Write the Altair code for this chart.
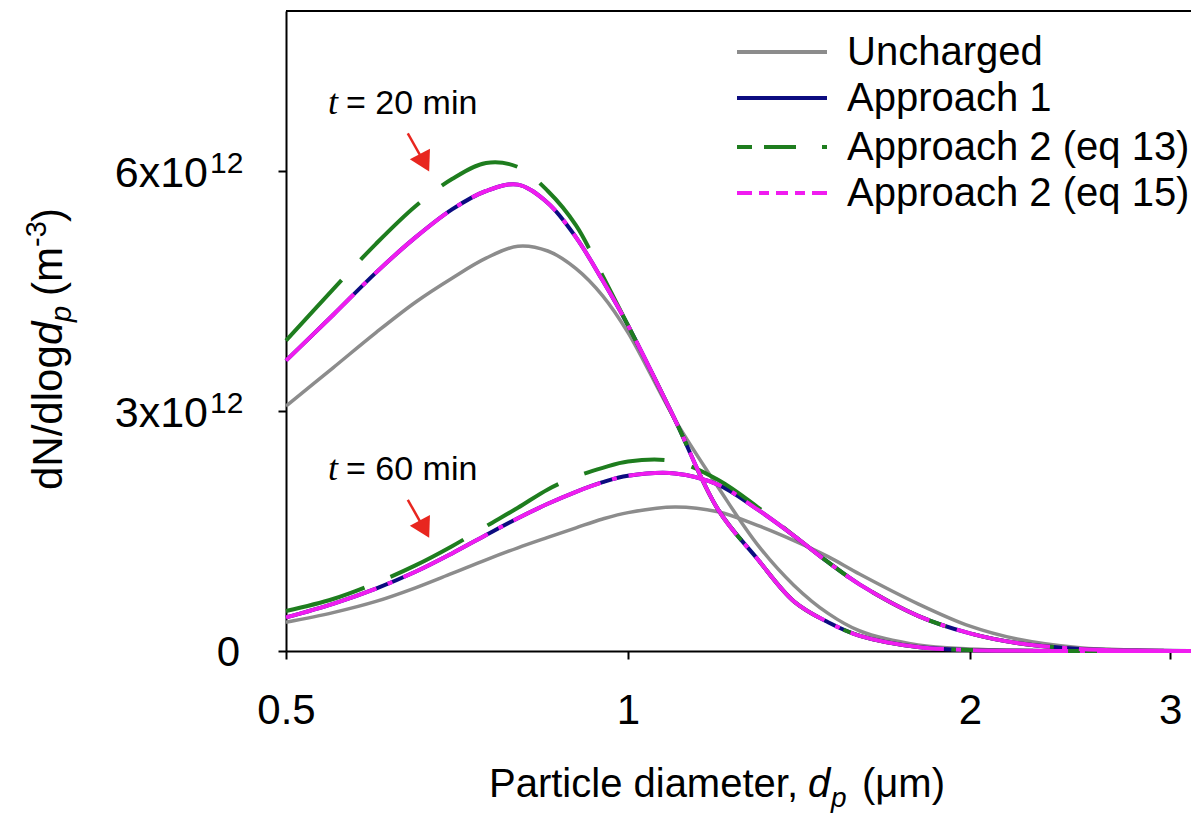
import altair as alt
import pandas as pd

# ---------------- data (dN/dlogdp in units of 1e12 m^-3) ----------------
diam = [0.5, 0.55, 0.6, 0.65, 0.7, 0.75, 0.8, 0.85, 0.9, 0.95, 1.0, 1.1, 1.2,
        1.3, 1.4, 1.5, 1.6, 1.8, 2.0, 2.2, 2.5, 2.8, 3.13]

unch_20 = [3.06, 3.54, 3.98, 4.36, 4.66, 4.91, 5.06, 5.00, 4.78, 4.44, 3.98, 2.89, 2.05,
           1.33, 0.82, 0.47, 0.25, 0.075, 0.025, 0.008, 0.002, 0.0005, 0.0001]
app1_20 = [3.63, 4.20, 4.73, 5.17, 5.52, 5.75, 5.83, 5.60, 5.17, 4.63, 4.07, 2.89, 1.77,
           1.15, 0.62, 0.36, 0.19, 0.05, 0.012, 0.003, 0.0005, 0.0001, 0.0]
eq13_20 = [3.88, 4.52, 5.09, 5.56, 5.90, 6.10, 6.05, 5.75, 5.32, 4.69, 4.07, 2.89, 1.77,
           1.15, 0.62, 0.36, 0.19, 0.05, 0.012, 0.003, 0.0005, 0.0001, 0.0]
eq15_20 = [3.63, 4.20, 4.73, 5.17, 5.52, 5.75, 5.83, 5.60, 5.17, 4.63, 4.07, 2.89, 1.77,
           1.15, 0.62, 0.36, 0.19, 0.05, 0.012, 0.003, 0.0005, 0.0001, 0.0]

unch_60 = [0.36, 0.48, 0.62, 0.79, 0.97, 1.14, 1.29, 1.42, 1.54, 1.65, 1.73, 1.80, 1.74,
           1.57, 1.38, 1.18, 0.96, 0.59, 0.31, 0.15, 0.04, 0.012, 0.003]
app1_60 = [0.42, 0.59, 0.78, 0.99, 1.22, 1.45, 1.66, 1.84, 1.99, 2.11, 2.19, 2.22, 2.08,
           1.77, 1.44, 1.11, 0.83, 0.44, 0.22, 0.10, 0.025, 0.005, 0.001]
eq13_60 = [0.50, 0.65, 0.85, 1.07, 1.31, 1.56, 1.79, 2.02, 2.18, 2.29, 2.37, 2.37, 2.14,
           1.80, 1.44, 1.11, 0.83, 0.44, 0.22, 0.10, 0.025, 0.005, 0.001]
eq15_60 = [0.42, 0.59, 0.78, 0.99, 1.22, 1.45, 1.66, 1.84, 1.99, 2.11, 2.19, 2.22, 2.08,
           1.77, 1.44, 1.11, 0.83, 0.44, 0.22, 0.10, 0.025, 0.005, 0.001]

series_names = ["Uncharged", "Approach 1", "Approach 2 (eq 13)", "Approach 2 (eq 15)"]
x_ticks = [0.5, 1, 2, 3]
y_tick_vals = [0, 3, 6]
y_tick_main = ["0", "3x10", "6x10"]
y_tick_sup = ["", "12", "12"]

ann_text = ["= 20 min", "= 60 min"]
ann_y = [6.71, 2.14]
ann_t_x = 0.5444
ann_text_x = 0.5647
arrow_x0, arrow_x1, arrow_head_x = 0.640, 0.656, 0.660
arrow_y0 = [6.47, 1.89]
arrow_y1 = [6.20, 1.62]
arrow_head_y = [6.14, 1.56]

# ---------------- build table ----------------
rows = []
for name, t, vals in [
    ("Uncharged", "20", unch_20), ("Uncharged", "60", unch_60),
    ("Approach 1", "20", app1_20), ("Approach 1", "60", app1_60),
    ("Approach 2 (eq 13)", "20", eq13_20), ("Approach 2 (eq 13)", "60", eq13_60),
    ("Approach 2 (eq 15)", "20", eq15_20), ("Approach 2 (eq 15)", "60", eq15_60),
]:
    for d, v in zip(diam, vals):
        rows.append({"d": d, "v": v, "series": name, "t": t})
df = pd.DataFrame(rows)

W, H = 905, 640
SANS = "Liberation Sans"
SERIF = "Liberation Serif"

xscale = alt.Scale(type="log", domain=[0.5, 3.13], nice=False)
yscale = alt.Scale(domain=[0, 8], nice=False)
xaxis = alt.Axis(values=x_ticks, format="~g", title=None, labelFontSize=42, labelFont=SANS,
                 labelColor="black", tickSize=8, tickWidth=2, tickColor="black",
                 domainColor="black", domainWidth=2, labelPadding=31, grid=False,
                 labelFlush=False, labelOverlap=False)
yaxis = alt.Axis(values=y_tick_vals, labels=False, title=None, tickSize=8, tickWidth=2,
                 tickColor="black", domainColor="black", domainWidth=2, grid=False)


def X(field):
    return alt.X(field, scale=xscale, axis=xaxis)


def Y(field):
    return alt.Y(field, scale=yscale, axis=yaxis)


styles = {
    "Uncharged": dict(color="#8c8c8c", strokeWidth=3.5),
    "Approach 1": dict(color="#0c0c80", strokeWidth=4),
    "Approach 2 (eq 13)": dict(color="#1e7d1e", strokeWidth=4, strokeDash=[82, 28]),
    "Approach 2 (eq 15)": dict(color="#f01cf0", strokeWidth=4, strokeDash=[95, 12, 5, 12]),
}

layers = []
for name in series_names:
    layers.append(
        alt.Chart(df).transform_filter(alt.datum.series == name)
        .mark_line(interpolate="catmull-rom", strokeCap="butt", **styles[name])
        .encode(x=X("d:Q"), y=Y("v:Q"), detail="t:N")
    )

# y tick labels with superscripts
ylab = pd.DataFrame({"v": y_tick_vals, "main": y_tick_main, "sup": y_tick_sup})
layers.append(
    alt.Chart(ylab).transform_filter(alt.datum.v == 0)
    .mark_text(font=SANS, fontSize=42, align="right", baseline="alphabetic", dy=15, color="black")
    .encode(x=alt.value(-46), y=Y("v:Q"), text="main:N")
)
layers.append(
    alt.Chart(ylab).transform_filter(alt.datum.v > 0)
    .mark_text(font=SANS, fontSize=43, align="right", baseline="alphabetic", dy=16, color="black")
    .encode(x=alt.value(-78), y=Y("v:Q"), text="main:N")
)
layers.append(
    alt.Chart(ylab).transform_filter(alt.datum.v > 0)
    .mark_text(font=SANS, fontSize=30, align="left", baseline="alphabetic", dy=2, color="black")
    .encode(x=alt.value(-76), y=Y("v:Q"), text="sup:N")
)

# annotations
ann = pd.DataFrame({"y": ann_y, "txt": ann_text, "tx": [ann_t_x] * 2, "lx": [ann_text_x] * 2,
                    "ax0": [arrow_x0] * 2, "ax1": [arrow_x1] * 2, "ahx": [arrow_head_x] * 2,
                    "ay0": arrow_y0, "ay1": arrow_y1, "ahy": arrow_head_y, "tt": ["t", "t"]})
layers.append(
    alt.Chart(ann).mark_text(font=SERIF, fontStyle="italic", fontSize=36, align="left",
                             baseline="alphabetic", color="black")
    .encode(x=X("tx:Q"), y=Y("y:Q"), text="tt:N")
)
layers.append(
    alt.Chart(ann).mark_text(font=SANS, fontSize=34, align="left", baseline="alphabetic", color="black")
    .encode(x=X("lx:Q"), y=Y("y:Q"), text="txt:N")
)
layers.append(
    alt.Chart(ann).mark_rule(color="#e8261f", strokeWidth=2.5)
    .encode(x=X("ax0:Q"), x2="ax1:Q", y=Y("ay0:Q"), y2="ay1:Q")
)
layers.append(
    alt.Chart(ann).mark_point(shape="triangle", angle=152, filled=True, size=520, color="#e8261f", opacity=1)
    .encode(x=X("ahx:Q"), y=Y("ahy:Q"))
)

one = pd.DataFrame({"a": [0]})

# top frame line
layers.append(
    alt.Chart(one).mark_rule(color="black", strokeWidth=2)
    .encode(x=alt.value(0), x2=alt.value(W), y=alt.value(0))
)

# legend
leg_rows_y = [41, 87, 136, 182]
leg_dash = {
    "Uncharged": None,
    "Approach 1": None,
    "Approach 2 (eq 13)": [15, 12, 32, 26, 5, 100],
    "Approach 2 (eq 15)": [15, 7, 10, 7, 12, 7, 10, 7, 17, 60],
}
for name, yy in zip(series_names, leg_rows_y):
    st = dict(color=styles[name]["color"], strokeWidth=4)
    if leg_dash[name] is not None:
        st["strokeDash"] = leg_dash[name]
    layers.append(
        alt.Chart(one).mark_rule(strokeCap="butt", **st)
        .encode(x=alt.value(451), x2=alt.value(541), y=alt.value(yy))
    )
    layers.append(
        alt.Chart(one).mark_text(text=name, font=SANS, fontSize=40, align="left",
                                 baseline="alphabetic", dy=13, color="black")
        .encode(x=alt.value(561), y=alt.value(yy))
    )


def txt(s, x, y, size=40, style="normal", angle=0):
    return alt.Chart(one).mark_text(text=s, font=SANS, fontSize=size, fontStyle=style, align="left",
                                    baseline="alphabetic", color="black", angle=angle).encode(
        x=alt.value(x), y=alt.value(y))


# x-axis title: Particle diameter, d_p (μm)
layers += [
    txt("Particle diameter,", 203, 786),
    txt("d", 522, 786, style="italic"),
    txt("p", 545, 796, size=28, style="italic"),
    txt("(\u03bcm)", 576, 786),
]

# y-axis title: dN/dlogd_p (m^-3), rotated
layers += [
    txt("dN/dlog", -224, 479, size=42, angle=270),
    txt("d", -224, 334, size=42, style="italic", angle=270),
    txt("p", -215, 311, size=29, style="italic", angle=270),
    txt("(m", -224, 285, size=42, angle=270),
    txt("-3", -240, 236, size=29, angle=270),
    txt(")", -224, 211, size=42, angle=270),
]

chart = alt.layer(*layers).properties(
    width=W, height=H,
    autosize=alt.AutoSizeParams(type="none"),
    padding={"left": 278, "top": 3, "right": 0, "bottom": 162},
    background="white",
).configure_view(stroke=None)

chart.save("out.html", embed_options={"renderer": "svg", "actions": False})
